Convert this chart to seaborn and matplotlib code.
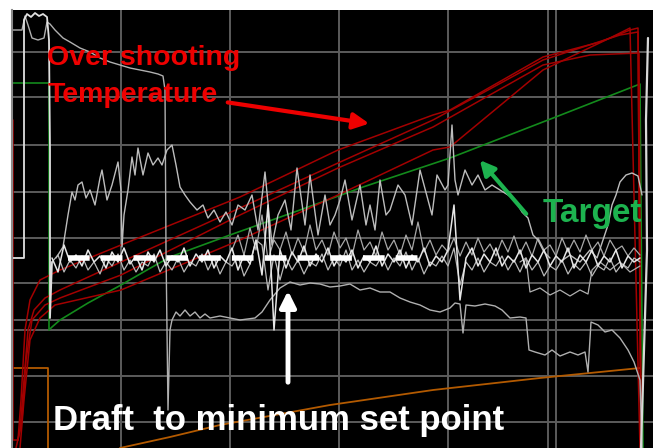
import matplotlib
matplotlib.use('Agg')
from matplotlib import pyplot as plt
import seaborn as sns

# scope screen readings: time in samples, level in screen rows (top = 10)
grid_x = [121, 230, 339, 448, 548, 556]
grid_y = [52, 97, 145, 192, 238, 283, 320, 330, 376, 422]

# main noisy band around the set point
band_t = list(range(52, 641, 6))
band1 = [258, 272, 245, 262, 255, 266, 250, 262, 256, 268,
         252, 262, 248, 264, 256, 270, 252, 262, 250, 266,
         256, 262, 248, 266, 254, 262, 250, 268, 256, 262,
         248, 270, 255, 264, 240, 275, 205, 330, 250, 268,
         252, 262, 246, 266, 254, 262, 248, 266, 255, 262,
         250, 268, 256, 262, 246, 266, 254, 262, 250, 268,
         255, 262, 248, 266, 256, 262, 250, 205, 300, 258,
         248, 266, 254, 262, 248, 266, 256, 262, 250, 268,
         255, 262, 250, 266, 256, 262, 248, 268, 255, 262,
         250, 266, 256, 262, 250, 268, 256, 262, 258]
band2 = [262, 255, 272, 260, 268, 256, 270, 262, 274, 258,
         266, 254, 270, 260, 272, 262, 266, 254, 272, 262,
         270, 258, 272, 262, 266, 254, 270, 258, 274, 262,
         266, 256, 276, 264, 240, 245, 290, 255, 280, 258,
         270, 260, 274, 262, 266, 254, 270, 258, 266, 250,
         270, 260, 272, 262, 266, 256, 270, 258, 266, 252,
         270, 258, 274, 262, 266, 256, 266, 248, 285, 262,
         270, 258, 272, 262, 266, 256, 270, 260, 272, 258,
         270, 262, 276, 266, 270, 260, 274, 264, 270, 262,
         276, 266, 270, 258, 272, 264, 268, 258, 262]
band3 = [250, 235, 255, 228, 250, 215, 260, 240, 250, 232,
         255, 238, 252, 225, 250, 240, 255, 232, 248, 238,
         256, 230, 250, 242, 256, 232, 250, 240, 255, 235,
         250, 222, 252, 240, 255, 245, 252, 238, 256, 242,
         255, 238, 252, 244, 256, 240, 252, 236, 254, 242,
         256, 238, 250, 245, 256, 238, 252, 240, 252, 235,
         250, 242, 256, 240, 250, 246, 256, 248, 255]

setpoint_t = [68, 424]
setpoint_v = [258, 258]

# start-up pulse on the left
left_t = [12, 24, 24, 27, 31, 35, 39, 43, 47, 49, 50, 50, 52]
left_v = [258, 258, 20, 14, 17, 13, 16, 14, 17, 40, 150, 318, 262]

# upper noisy trace
upper_t = [56, 63, 68, 72, 75, 78, 82, 86, 90, 95, 100, 102, 107, 112, 118, 121,
           122, 124, 128, 132, 135, 138, 143, 148, 153, 158, 162, 167, 172, 176,
           180, 185, 190, 197, 203, 208, 214, 220, 226, 232, 238, 245, 252, 258,
           265, 272, 278, 285, 291, 297, 305, 310, 318, 325, 330, 335, 340, 345,
           352, 360, 366, 370, 375, 380, 386, 390, 398, 405, 412, 420, 428, 432,
           437, 445, 448, 452, 455, 458, 465, 472, 478, 485, 492, 500, 508, 515,
           522, 528, 533, 538, 544, 550]
upper_v = [258, 247, 215, 192, 200, 185, 182, 198, 190, 205, 178, 170, 200, 185,
           162, 190, 247, 215, 190, 157, 175, 148, 175, 153, 165, 158, 165, 150,
           145, 165, 187, 195, 202, 210, 205, 218, 210, 222, 212, 225, 205, 210,
           195, 230, 172, 245, 215, 200, 230, 168, 225, 175, 235, 195, 225, 215,
           200, 180, 220, 185, 225, 205, 230, 180, 215, 210, 185, 195, 225, 170,
           200, 215, 175, 190, 185, 125, 180, 195, 170, 185, 175, 190, 185, 190,
           195, 200, 212, 218, 235, 240, 252, 258]
right_t = [560, 570, 580, 590, 597, 603, 608, 612, 616, 620, 626, 632, 638, 642]
right_v = [262, 255, 262, 250, 258, 240, 225, 205, 195, 182, 175, 173, 176, 195]

# draft trace: slow fall from the top, then the low branch
lower_t = [13, 22, 25, 28, 32, 38, 44, 47, 50, 55, 63, 70, 80, 90, 100, 110, 120,
           130, 140, 150, 158, 163, 165, 166, 168, 170, 172, 176, 180, 185, 190,
           195, 200, 205, 210, 220, 240, 255, 262, 270, 280, 290, 300, 310, 320,
           330, 340, 350, 360, 370, 380, 390, 400, 410, 420, 430, 440, 450, 455,
           460, 463, 466, 475, 485, 495, 502, 510, 520, 526, 529, 535, 545, 552,
           560, 570, 578, 585, 588, 591, 598, 605, 612, 620, 628, 634, 640, 642]
lower_v = [30, 30, 16, 25, 38, 40, 38, 22, 24, 30, 38, 42, 48, 52, 58, 62, 65,
           68, 70, 72, 74, 76, 90, 250, 410, 330, 320, 312, 316, 310, 316,
           312, 318, 314, 318, 316, 320, 318, 312, 300, 288, 282, 285, 283, 284,
           287, 286, 284, 290, 288, 292, 292, 298, 302, 305, 310, 312, 308, 303,
           304, 333, 305, 306, 304, 306, 310, 318, 317, 318, 350, 352, 355, 350,
           356, 352, 355, 352, 372, 322, 325, 332, 330, 338, 350, 362, 380, 448]

step_t = [520, 526, 530, 540, 550, 560, 570, 580, 588, 592, 600, 610, 620, 630, 640]
step_v = [262, 258, 292, 288, 295, 290, 296, 290, 294, 270, 262, 270, 262, 272, 266]

edge_t = [648, 646, 647, 644, 641]
edge_v = [38, 120, 250, 350, 448]

# zone temperatures (red)
red_t = [
    [13, 13, 18, 21, 25, 30, 40, 60, 121, 240, 338, 433, 450, 543, 600, 630, 638, 641],
    [16, 20, 24, 28, 34, 45, 60, 121, 240, 338, 433, 543, 620, 638, 641],
    [18, 22, 26, 32, 45, 60, 121, 240, 338, 433, 543, 590, 639, 641],
    [20, 24, 30, 40, 55, 121, 240, 338, 433, 450, 543, 610, 630, 640],
]
red_v = [
    [120, 440, 440, 400, 330, 300, 280, 270, 245, 197, 150, 115, 110, 57, 42, 30, 28, 448],
    [448, 430, 380, 330, 310, 298, 290, 262, 208, 163, 120, 60, 35, 32, 448],
    [440, 420, 360, 320, 305, 298, 275, 215, 168, 127, 65, 55, 53, 448],
    [448, 400, 340, 318, 305, 290, 240, 195, 150, 147, 70, 38, 28, 448],
]

target_t = [13, 49, 49, 52, 60, 88, 121, 147, 170, 230, 300, 363, 450, 548, 640, 643]
target_v = [83, 83, 330, 327, 320, 303, 285, 270, 257, 235, 210, 187, 158, 120, 84, 448]

draft_t = [13, 48, 48, 110, 120, 170, 220, 330, 433, 540, 640]
draft_v = [368, 368, 460, 460, 448, 437, 425, 405, 390, 378, 368]

sns.set_theme(style='dark')
plt.rcParams['font.family'] = ['Liberation Sans', 'DejaVu Sans']

fig = plt.figure(figsize=(6.53, 4.48), dpi=100, facecolor='white')
ax = fig.add_axes([12 / 653, 0, 641 / 653, 438 / 448])
ax.set_facecolor('black')


def trace(t, v, color, lw=1.0):
    sns.lineplot(x=t, y=v, sort=False, estimator=None, color=color,
                 linewidth=lw, ax=ax)


trace(draft_t, draft_v, '#b35a00', 1.3)
trace(target_t, target_v, '#138a1c', 1.2)
for t, v in zip(red_t, red_v):
    trace(t, v, '#a30000', 1.1)
trace(lower_t, lower_v, '#b0b0b0', 1.0)
trace(band_t[30:], band3, '#a8a8a8', 0.9)
trace(band_t, band2, '#b8b8b8', 0.9)
trace(upper_t, upper_v, '#bdbdbd', 1.0)
trace(right_t, right_v, '#bdbdbd', 1.0)
trace(step_t, step_v, '#b0b0b0', 0.9)
trace(band_t, band1, '#e6e6e6', 1.1)
trace(left_t, left_v, '#e0e0e0', 1.3)
trace(edge_t, edge_v, '#d8d8d8', 1.6)
ax.plot(setpoint_t, setpoint_v, color='white', lw=4.0, dashes=(3.9, 2.0),
        solid_capstyle='butt', zorder=5)

ax.set_xlim(12, 653)
ax.set_ylim(448, 10)
ax.set_xticks(grid_x)
ax.set_yticks(grid_y)
ax.grid(True, color='#5c5c5c', lw=1.4)
ax.set_axisbelow(True)
ax.tick_params(length=0, labelbottom=False, labelleft=False)
ax.set_xlabel('')
ax.set_ylabel('')
for side in ['top', 'right', 'bottom']:
    ax.spines[side].set_visible(False)
ax.spines['left'].set_color('#8a8a8a')
ax.spines['left'].set_linewidth(1.5)

ax.text(47, 65, 'Over shooting', color='#ee0000', fontsize=20.5,
        fontweight='bold', va='baseline', zorder=10)
ax.text(48, 102, 'Temperature', color='#ee0000', fontsize=20.5,
        fontweight='bold', va='baseline', zorder=10)
ax.annotate('', xy=(372, 124), xytext=(225, 102),
            arrowprops=dict(arrowstyle='-|>', color='#ee0000', lw=3,
                            mutation_scale=24), zorder=10)

ax.text(543, 222, 'Target', color='#1db34f', fontsize=24,
        fontweight='bold', va='baseline', zorder=10)
ax.annotate('', xy=(478, 158), xytext=(528, 216),
            arrowprops=dict(arrowstyle='-|>', color='#1db34f', lw=3,
                            mutation_scale=22), zorder=10)

ax.text(53, 430, 'Draft  to minimum set point', color='white', fontsize=25,
        fontweight='bold', va='baseline', zorder=10)
ax.annotate('', xy=(288, 288), xytext=(288, 385),
            arrowprops=dict(arrowstyle='-|>', color='white', lw=3.5,
                            mutation_scale=24), zorder=10)

fig.savefig('out.png', dpi=100, facecolor='white')
